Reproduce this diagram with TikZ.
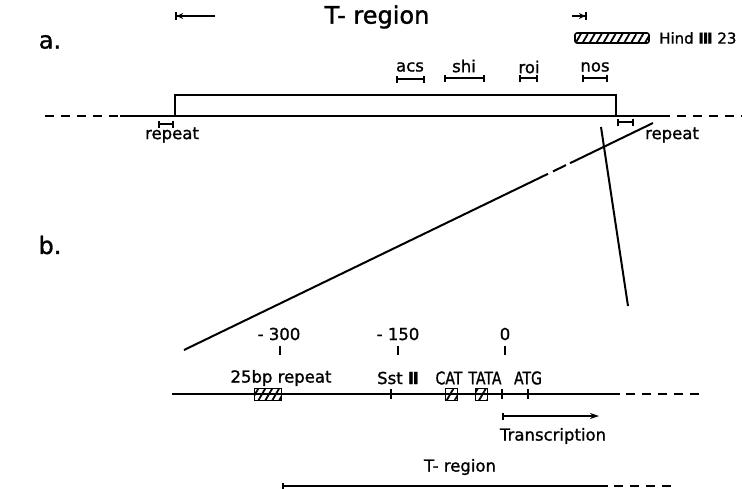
\documentclass[tikz,border=0pt]{standalone}
\usepackage{fontspec}
\usepackage{graphicx}
\setmainfont{DejaVu Sans}[FakeBold=1.2]
\usetikzlibrary{arrows.meta,patterns.meta}
\newcommand{\narrowtxt}[1]{\scalebox{0.8}[1]{#1}}
\begin{document}
\begin{tikzpicture}[x=1pt,y=-1pt,
  lbl/.style={font=\fontsize{16.5}{18}\selectfont, inner sep=0pt},
  caps/.style={font=\fontsize{17.5}{19}\selectfont, inner sep=0pt},
  big/.style={font=\fontsize{24}{28}\selectfont, inner sep=0pt},
  dna/.style={line width=2.2pt},
  dnadash/.style={line width=2.2pt, dash pattern=on 9pt off 7pt},
  brk/.style={line width=2pt, {Bar[width=7pt,line width=2pt]}-{Bar[width=7pt,line width=2pt]}},
  hatch/.style={draw, line width=1.6pt, pattern={Lines[angle=60,distance=6pt,line width=1.8pt]}},
  thin/.style={line width=2pt},
  tick/.style={line width=2pt}]
\useasboundingbox (0,0) rectangle (742,488);

% ---------- part a ----------
\node[big] (la) at (50,42) {a.};
\node[big] (lb) at (50,245) {b.};
\node[big] (ttop) at (377,17) {T- region};
\coordinate (tl1) at (175,16); \coordinate (tl2) at (215,16);
\coordinate (tr1) at (572,16); \coordinate (tr2) at (587,16);
\draw[thin, {Bar[width=8pt,line width=2pt]Stealth[length=6pt,width=6pt]}-] (tl1) -- (tl2);
\draw[thin, -{Stealth[length=6pt,width=6pt]Bar[width=8pt,line width=2pt]}] (tr1) -- (tr2);
\node[hatch, rounded corners=2pt, minimum width=74pt, minimum height=10pt, inner sep=0pt] (hind) at (612,38) {};
\node[font=\fontsize{15}{17}\selectfont, inner sep=0pt, anchor=west] (hindl) at (659,38) {Hind \textbf{Ⅲ} 23};

% gene labels
\node[lbl] (acs) at (410,67) {acs};
\node[lbl] (shi) at (464,66) {shi};
\node[lbl] (roi) at (529,67) {roi};
\node[lbl] (nos) at (595,67) {nos};
\draw[brk] (396,79) -- (425,79);
\draw[brk] (444,78) -- (485,78);
\draw[brk] (519,78) -- (538,78);
\draw[brk] (582,78) -- (608,78);

% main line a
\coordinate (a0) at (45,116); \coordinate (a1) at (120,116);
\coordinate (a2) at (670,116); \coordinate (a3) at (742,116);
\draw[dnadash] (a0) -- (a1);
\draw[dna] (a1) -- (a2);
\draw[dnadash] (677,116) -- (a3);
\coordinate (bx1) at (175,116); \coordinate (bx2) at (616,116);
\draw[dna] (bx1) -- (175,95) -- (616,95) -- (bx2);

% repeats
\draw[brk] (158,124) -- (174,124);
\node[lbl] (rep1) at (172,135) {repeat};
\draw[brk] (617,122) -- (634,122);
\node[lbl] (rep2) at (672,135) {repeat};

% zoom lines
\coordinate (z1) at (184,350); \coordinate (z1a) at (548,173.8);
\coordinate (z1b) at (553,171.4); \coordinate (z1c) at (566,165.1);
\coordinate (z1d) at (570,163.2); \coordinate (z2) at (653,123);
\draw[thin] (z1) -- (z1a) (z1b) -- (z1c) (z1d) -- (z2);
\coordinate (y1) at (601,127); \coordinate (y2) at (628,306);
\draw[thin] (y1) -- (y2);

% ---------- part b ----------
\node[lbl] (m300) at (279,334) {- 300};
\node[lbl] (m150) at (398,334) {- 150};
\node[lbl] (p0) at (505,334) {0};
\draw[tick] (280,346) -- (280,355);
\draw[tick] (398,346) -- (398,355);
\draw[tick] (505,346) -- (505,355);

\coordinate (b0) at (172,394); \coordinate (b1) at (620,394); \coordinate (b2) at (702,394);
\draw[dna] (b0) -- (b1);
\draw[dnadash] (626,394) -- (b2);

\node[lbl] (rep25) at (281,378) {25bp repeat};
\node[hatch, minimum width=27pt, minimum height=12pt, inner sep=0pt] (h25) at (268,394.5) {};
\node[lbl] (sst) at (398,378) {Sst \textbf{Ⅱ}};
\draw[tick] (391,389) -- (391,399);
\node[caps] (cat) at (449,378) {\narrowtxt{CAT}};
\node[hatch, minimum width=12pt, minimum height=12pt, inner sep=0pt, pattern={Lines[angle=60,distance=7pt,line width=1.8pt]}] (catb) at (451.5,394.5) {};
\node[caps] (tata) at (485,378) {\narrowtxt{TATA}};
\node[hatch, minimum width=12pt, minimum height=12pt, inner sep=0pt, pattern={Lines[angle=60,distance=7pt,line width=1.8pt]}] (tatab) at (481.5,394.5) {};
\draw[tick] (502,389) -- (502,399);
\node[caps] (atg) at (528,378) {\narrowtxt{ATG}};
\draw[tick] (528,389) -- (528,399);

\coordinate (tr0) at (502,416); \coordinate (tre) at (599,416);
\draw[thin, {Bar[width=7pt,line width=2pt]}-{Stealth[length=9pt,width=6pt]}] (tr0) -- (tre);
\node[lbl] (trans) at (553,436) {Transcription};

\node[lbl] (tbot) at (460,467) {T- region};
\coordinate (t0) at (282,486); \coordinate (t1) at (608,486); \coordinate (t2) at (672,486);
\draw[thin, {Bar[width=7pt,line width=2pt]}-] (t0) -- (t1);
\draw[thin, dash pattern=on 9pt off 7pt] (614,486) -- (t2);
\end{tikzpicture}
\end{document}
